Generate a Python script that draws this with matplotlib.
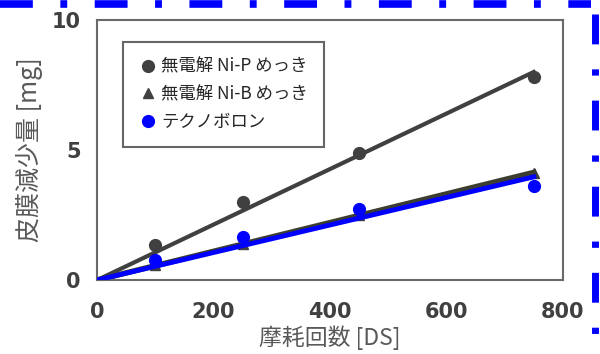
import numpy as np
import matplotlib.pyplot as plt
from matplotlib.lines import Line2D

plt.rcParams['font.family'] = ['Noto Sans CJK JP', 'DejaVu Sans']

# ---------------------------------------------------
# Data
# ---------------------------------------------------
ds = np.array([100, 250, 450, 750])
ni_p = np.array([1.35, 3.0, 4.9, 7.8])
ni_b = np.array([0.57, 1.40, 2.50, 4.12])
techno = np.array([0.77, 1.65, 2.73, 3.62])

labels = ['無電解 Ni-P めっき', '無電解 Ni-B めっき', 'テクノボロン']
x_ticks = [0, 200, 400, 600, 800]
y_ticks = [0, 5, 10]

dark = '#404040'
blue = '#0000ff'


def fit_origin(x, y):
    # least squares line forced through the origin
    return np.sum(x * y) / np.sum(x * x)


fig = plt.figure(figsize=(6, 3.54), dpi=100)
ax = fig.add_axes([0.162, 0.209, 0.776, 0.734])

x_line = np.array([0, ds[-1]])

# trend lines
ax.plot(x_line, fit_origin(ds, ni_p) * x_line, color=dark, lw=3, zorder=2)
ax.plot(x_line, fit_origin(ds, ni_b) * x_line, color='#3b3d30', lw=4, zorder=2)
ax.plot(x_line, fit_origin(ds, techno) * x_line, color=blue, lw=3.5, zorder=3)

# markers
ax.plot(ds, ni_p, 'o', color=dark, ms=8.5, label=labels[0], zorder=4)
ax.plot(ds, ni_b, '^', color=dark, ms=6.5, label=labels[1], zorder=1)
ax.plot(ds, techno, 'o', color=blue, ms=8.5, label=labels[2], zorder=4)

ax.set_xlim(0, 800)
ax.set_ylim(0, 10)
ax.set_xticks(x_ticks)
ax.set_yticks(y_ticks)
ax.tick_params(length=0, labelsize=15, labelcolor=dark)
ax.tick_params(axis='x', pad=16)
ax.tick_params(axis='y', pad=12)
for lab in ax.get_xticklabels() + ax.get_yticklabels():
    lab.set_fontweight('bold')
    lab.set_family('DejaVu Sans')

for sp in ax.spines.values():
    sp.set_color('#6a6a6a')
    sp.set_linewidth(1.5)

ax.set_xlabel('摩耗回数 [DS]', fontsize=16.5, color='#595959', labelpad=2)
ax.set_ylabel('皮膜減少量 [mg]', fontsize=18, color='#595959', labelpad=6)

leg = ax.legend(loc='upper left', bbox_to_anchor=(0.056, 0.915), fontsize=12.5,
                frameon=True, fancybox=False, handletextpad=0.3,
                handlelength=1.0, labelspacing=0.55, borderpad=0.9,
                borderaxespad=0)
leg.get_frame().set_edgecolor('#404040')
leg.get_frame().set_linewidth(1.5)
for t in leg.get_texts():
    t.set_color('#262626')

# blue dash-dot border of the slide frame (top and right)
dash = (0, (4.3, 3.6, 0.9, 3.6))
fig.add_artist(Line2D([0, 0.985], [0.99, 0.99], transform=fig.transFigure,
                      color=blue, lw=5.5, linestyle=dash))
fig.add_artist(Line2D([0.992, 0.992], [0.96, 0.0], transform=fig.transFigure,
                      color=blue, lw=5, linestyle=dash))

fig.savefig('out.png', dpi=100)
